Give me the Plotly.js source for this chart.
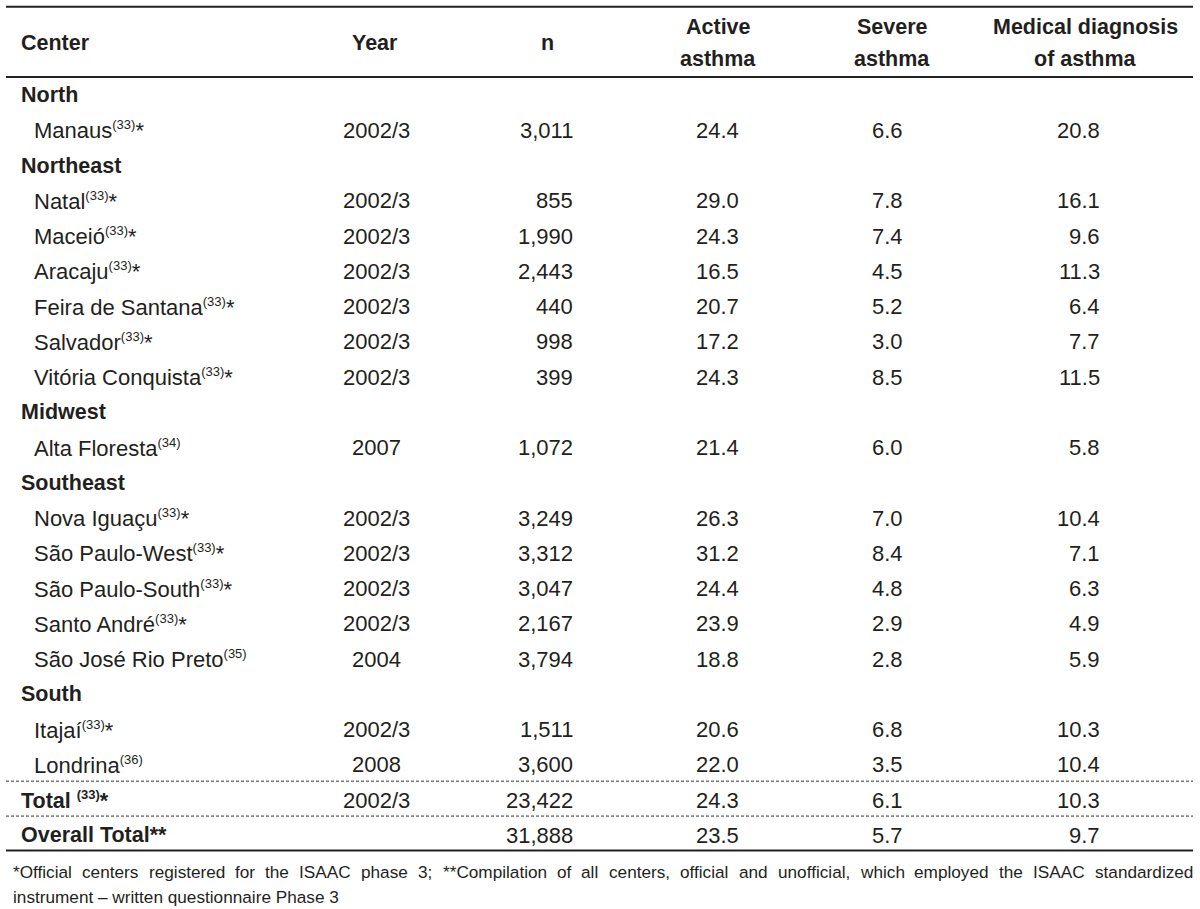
<!DOCTYPE html>
<html>
<head>
<meta charset="utf-8">
<script src="https://cdn.plot.ly/plotly-3.0.1.min.js"></script>
<style>html,body{margin:0;padding:0;background:#fff;}#chart{width:1200px;height:909px;}</style>
</head>
<body>
<div id="chart"></div>
<script>
// ---- data ----
const headers = [["Center"], ["Year"], ["n"], ["Active", "asthma"], ["Severe", "asthma"], ["Medical diagnosis", "of asthma"]];
const regions = ["North", "Northeast", "Midwest", "Southeast", "South"];
const centers = ["Manaus", "Natal", "Maceió", "Aracaju", "Feira de Santana", "Salvador", "Vitória Conquista",
  "Alta Floresta", "Nova Iguaçu", "São Paulo-West", "São Paulo-South", "Santo André", "São José Rio Preto",
  "Itajaí", "Londrina"];
const centerRegion = ["North", "Northeast", "Northeast", "Northeast", "Northeast", "Northeast", "Northeast",
  "Midwest", "Southeast", "Southeast", "Southeast", "Southeast", "Southeast", "South", "South"];
const refs = ["33", "33", "33", "33", "33", "33", "33", "34", "33", "33", "33", "33", "35", "33", "36"];
const official = [true, true, true, true, true, true, true, false, true, true, true, true, false, true, false];
const years = ["2002/3", "2002/3", "2002/3", "2002/3", "2002/3", "2002/3", "2002/3", "2007", "2002/3", "2002/3",
  "2002/3", "2002/3", "2004", "2002/3", "2008"];
const nValues = [3011, 855, 1990, 2443, 440, 998, 399, 1072, 3249, 3312, 3047, 2167, 3794, 1511, 3600];
const activeAsthma = [24.4, 29.0, 24.3, 16.5, 20.7, 17.2, 24.3, 21.4, 26.3, 31.2, 24.4, 23.9, 18.8, 20.6, 22.0];
const severeAsthma = [6.6, 7.8, 7.4, 4.5, 5.2, 3.0, 8.5, 6.0, 7.0, 8.4, 4.8, 2.9, 2.8, 6.8, 3.5];
const medicalDiagnosis = [20.8, 16.1, 9.6, 11.3, 6.4, 7.7, 11.5, 5.8, 10.4, 7.1, 6.3, 4.9, 5.9, 10.3, 10.4];
const totalLabels = ["Total", "Overall Total**"];
const totalRefs = ["33", ""];
const totalYears = ["2002/3", ""];
const totalN = [23422, 31888];
const totalActive = [24.3, 23.5];
const totalSevere = [6.1, 5.7];
const totalMedical = [10.3, 9.7];
const footnote = ["*Official centers registered for the ISAAC phase 3; **Compilation of all centers, official and unofficial, which employed the ISAAC standardized",
  "instrument – written questionnaire Phase 3"];

// ---- layout helpers ----
const FONT = "Liberation Sans, Arial, Helvetica, sans-serif";
const INK = "#231f20";
const FS = 22, FSB = 21.5, FSN = 17.2, FSUP = 13;
const ann = [];
function txt(x, y, text, anchor, size) {
  ann.push({
    x: x, y: y, xref: "x", yref: "y", text: text, showarrow: false,
    xanchor: anchor, yanchor: "middle", align: anchor === "center" ? "center" : anchor,
    font: {family: FONT, size: size || FS, color: INK}, borderpad: 0
  });
}
const sup = r => "<sup><span style=\"font-size:" + FSUP + "px\">(" + r + ")</span></sup>";
const fmtN = v => v.toLocaleString("en-US");
const fmt1 = v => v.toFixed(1);

// column positions (x-axis units)
const colCenterRegion = 20, colCity = 33, colYear = 376, colN = 574, colActive = 740, colSevere = 904, colMedical = 1101;
const hdrX = [20, 375, 547, 718, 892, 1085];

// header (row units: negative = above first body row)
headers.forEach((h, j) => {
  const anchor = j === 0 ? "left" : "center";
  if (h.length === 1) txt(hdrX[j], -1.47, "<b>" + h[0] + "</b>", anchor, FSB);
  else {
    txt(hdrX[j], -1.92, "<b>" + h[0] + "</b>", anchor, FSB);
    txt(hdrX[j], -1.03, "<b>" + h[1] + "</b>", anchor, FSB);
  }
});

// body
let row = 0;
regions.forEach(reg => {
  txt(colCenterRegion, row, "<b>" + reg + "</b>", "left", FSB);
  row++;
  centers.forEach((c, i) => {
    if (centerRegion[i] !== reg) return;
    txt(colCity, row, c + sup(refs[i]) + (official[i] ? "*" : ""), "left");
    txt(colYear, row, years[i], "center");
    txt(colN, row, fmtN(nValues[i]), "right");
    txt(colActive, row, fmt1(activeAsthma[i]), "right");
    txt(colSevere, row, fmt1(severeAsthma[i]), "right");
    txt(colMedical, row, fmt1(medicalDiagnosis[i]), "right");
    row++;
  });
});
const lastBodyRow = row - 1;
totalLabels.forEach((lab, k) => {
  const label = totalRefs[k] ? "<b>" + lab + " " + sup(totalRefs[k]) + "*</b>" : "<b>" + lab + "</b>";
  txt(colCenterRegion, row, label, "left", FSB);
  if (totalYears[k]) txt(colYear, row, totalYears[k], "center");
  txt(colN, row, fmtN(totalN[k]), "right");
  txt(colActive, row, fmt1(totalActive[k]), "right");
  txt(colSevere, row, fmt1(totalSevere[k]), "right");
  txt(colMedical, row, fmt1(totalMedical[k]), "right");
  row++;
});
const lastRow = row - 1;

// footnote: first line justified between FN_L and FN_R, second line left-aligned
const FN_L = 12, FN_R = 1192;
(function () {
  const ctx = document.createElement("canvas").getContext("2d");
  ctx.font = FSN + "px 'Liberation Sans', Arial, sans-serif";
  const words = footnote[0].split(" ");
  const widths = words.map(w => ctx.measureText(w).width);
  const sum = widths.reduce((a, b) => a + b, 0);
  const gap = (FN_R - FN_L - sum) / (words.length - 1);
  let x = FN_L;
  words.forEach((w, k) => { txt(x, lastRow + 1.04, w, "left", FSN); x += widths[k] + gap; });
  txt(FN_L, lastRow + 1.75, footnote[1], "left", FSN);
})();

// rules
const X0 = 6, X1 = 1193;
const shapes = [
  {type: "line", xref: "x", yref: "y", x0: X0, x1: X1, y0: -2.5, y1: -2.5, line: {color: "#222", width: 2}},
  {type: "line", xref: "x", yref: "y", x0: X0, x1: X1, y0: -0.51, y1: -0.51, line: {color: "#222", width: 2}},
  {type: "line", xref: "x", yref: "y", x0: X0, x1: X1, y0: lastBodyRow + 0.46, y1: lastBodyRow + 0.46, line: {color: "#333", width: 1, dash: "3px,2px"}},
  {type: "line", xref: "x", yref: "y", x0: X0, x1: X1, y0: lastBodyRow + 1.45, y1: lastBodyRow + 1.45, line: {color: "#333", width: 1, dash: "3px,2px"}},
  {type: "line", xref: "x", yref: "y", x0: X0, x1: X1, y0: lastRow + 0.43, y1: lastRow + 0.43, line: {color: "#222", width: 2}}
];

// y axis: row units, pixel = 95 + 35.26*row
const ROWH = 35.26, TOP = 95;
const layout = {
  width: 1200, height: 909,
  margin: {l: 0, r: 0, t: 0, b: 0, pad: 0},
  paper_bgcolor: "#ffffff", plot_bgcolor: "#ffffff",
  xaxis: {range: [0, 1200], visible: false, fixedrange: true},
  yaxis: {range: [(909 - TOP) / ROWH, -TOP / ROWH], visible: false, fixedrange: true},
  showlegend: false,
  annotations: ann,
  shapes: shapes
};
Plotly.newPlot("chart", [{type: "scatter", x: [], y: [], mode: "markers"}], layout, {staticPlot: true, displayModeBar: false});
</script>
</body>
</html>
